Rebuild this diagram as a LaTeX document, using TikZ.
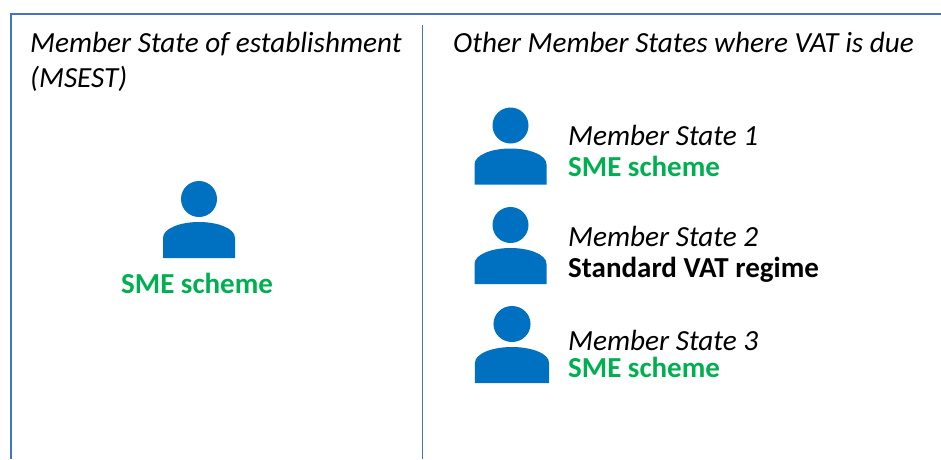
\documentclass[tikz,border=0pt]{standalone}
\usepackage{fontspec}
\setmainfont{Carlito}
\definecolor{framecol}{HTML}{4472C4}
\definecolor{personcol}{HTML}{0070C0}
\definecolor{schemecol}{HTML}{00B050}
\tikzset{
    head/.style={font=\fontsize{29.2}{34}\selectfont\itshape, anchor=base west, inner sep=0pt},
    regime/.style={font=\fontsize{29}{34}\selectfont\bfseries, anchor=base west, inner sep=0pt},
    person/.pic={
        \fill[personcol] (0,-59) circle (18);
        \fill[personcol] (-36,0) -- (-36,-20) .. controls (-36,-30) and (-18,-36) .. (0,-36)
            .. controls (18,-36) and (36,-30) .. (36,-20) -- (36,0) -- cycle;
    }
}
\begin{document}
\begin{tikzpicture}[x=1pt,y=-1pt]
    \useasboundingbox (0,0) rectangle (941,459);
    \draw[framecol, line width=1.6pt] (941,14) -- (11,14) -- (11,459);
    \draw[framecol, line width=0.8pt] (422,25) -- (422,459);

    \node[head] (msest) at (30,52) {Member State of establishment};
    \node[head] (msestb) at (30,87) {(MSEST)};
    \node[head] (others) at (453,52) {Other Member States where VAT is due};

    \pic at (199,258) {person};
    \node[regime, text=schemecol] (sme) at (121,293) {SME scheme};

    \pic at (510.5,184.5) {person};
    \node[head] (ms1) at (568,145) {Member State 1};
    \node[regime, text=schemecol] (sme1) at (568,176) {SME scheme};

    \pic at (510.5,284) {person};
    \node[head] (ms2) at (568,246) {Member State 2};
    \node[regime] (std) at (568,277) {Standard VAT regime};

    \pic[xscale=1.03] at (512,383) {person};
    \node[head] (ms3) at (568,350) {Member State 3};
    \node[regime, text=schemecol] (sme3) at (568,377) {SME scheme};
\end{tikzpicture}
\end{document}
